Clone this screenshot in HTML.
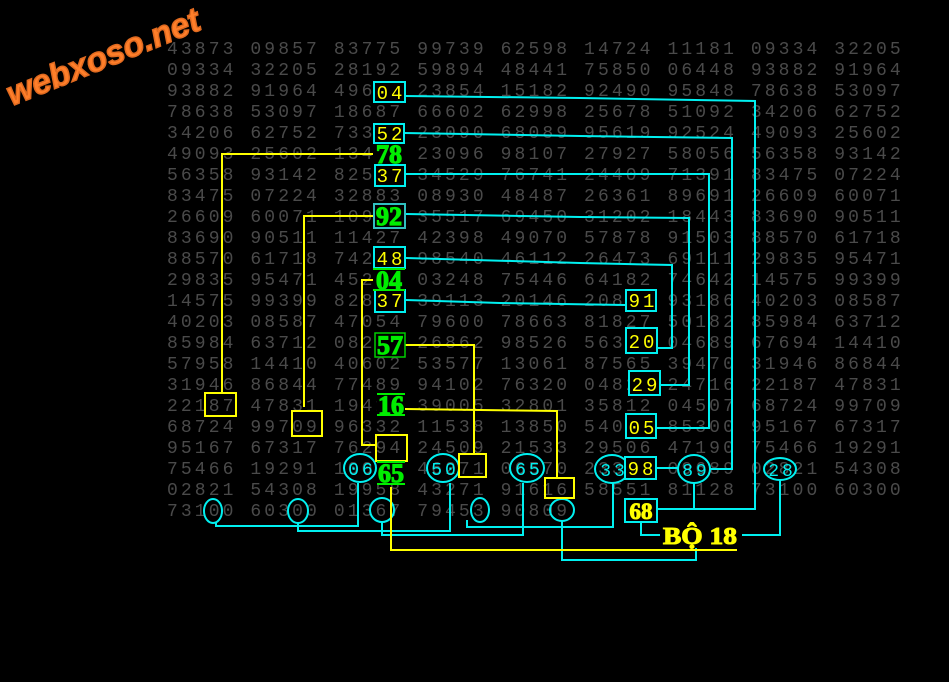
<!DOCTYPE html>
<html><head><meta charset="utf-8">
<style>
html,body{margin:0;padding:0;background:#000;width:949px;height:682px;overflow:hidden}
#g{position:absolute;left:167px;top:40px;margin:0;font-family:"Liberation Mono",monospace;font-size:18px;line-height:21px;letter-spacing:3.1px;color:#4a4a4a}
svg{position:absolute;left:0;top:0}
</style></head><body>
<pre id="g">43873 09857 83775 99739 62598 14724 11181 09334 32205
09334 32205 28192 59894 48441 75850 06448 93882 91964
93882 91964 49604 23854 15182 92490 95848 78638 53097
78638 53097 18687 66602 62998 25678 51092 34206 62752
34206 62752 73352 23090 68089 95619 92524 49093 25602
49093 25602 13478 23096 98107 27927 58056 56358 93142
56358 93142 82537 34529 76741 24409 71391 83475 07224
83475 07224 32883 08930 48487 26361 89691 26609 60071
26609 60071 10992 35517 69450 31202 18443 83690 90511
83690 90511 11427 42398 49070 57878 91503 88570 61718
88570 61718 74248 98540 46112 26473 69111 29835 95471
29835 95471 45204 03248 75446 64182 74642 14575 99399
14575 99399 82837 39113 20146 20891 93186 40203 08587
40203 08587 47054 79600 78663 81827 50182 85984 63712
85984 63712 08257 26862 98526 56320 04689 67694 14410
57958 14410 40602 53577 13061 87565 39470 31946 86844
31946 86844 77489 94102 76320 04829 24716 22187 47831
22187 47831 19416 39005 32801 35812 04507 68724 99709
68724 99709 96332 11538 13850 54005 85300 95167 67317
95167 67317 76294 24509 21533 29506 47190 75466 19291
75466 19291 10065 46271 06570 23398 09689 02821 54308
02821 54308 19958 43271 91616 58551 81128 73100 60300
73100 60300 01367 79453 90809</pre>
<svg width="949" height="682" viewBox="0 0 949 682">
<text x="12" y="106" transform="rotate(-22 12 106)" font-family="Liberation Sans,sans-serif" font-weight="bold" font-style="italic" font-size="34" fill="#ff7f2a" stroke="#e06a20" stroke-width="1.5">webxoso.net</text>

<g fill="none" stroke="#00f0f0" stroke-width="2">
<polyline points="405,96 580,98 755,101 755,509 657,509"/>
<polyline points="404,133 580,136 732,138 732,469 710,469"/>
<polyline points="406,174 709,174 709,428 657,428"/>
<polyline points="406,214 580,217 689,218 689,385 661,385"/>
<polyline points="406,258 580,263 672,265 672,348 657,348"/>
<polyline points="406,300 500,303 625,305"/>
<line x1="657" y1="468" x2="678" y2="468"/>
<polyline points="694,483 694,508"/>
<polyline points="780,480 780,535 742,535"/>
<polyline points="641,521 641,535 660,535"/>
<polyline points="613,483 613,527 467,527 467,520"/>
<polyline points="523,483 523,535 382,535 382,522"/>
<polyline points="450,483 450,531 298,531 298,523"/>
<polyline points="358,483 358,526 216,526 216,523"/>
<polyline points="562,521 562,560 696,560 696,548"/>
<ellipse cx="360" cy="468" rx="16" ry="14"/>
<ellipse cx="443" cy="468" rx="16" ry="14"/>
<ellipse cx="527" cy="468" rx="17" ry="14"/>
<ellipse cx="612" cy="469" rx="17" ry="14"/>
<ellipse cx="694" cy="469" rx="16" ry="14"/>
<ellipse cx="780" cy="469" rx="16" ry="11"/>
<ellipse cx="213" cy="511" rx="9" ry="12"/>
<ellipse cx="298" cy="511" rx="10" ry="12"/>
<ellipse cx="382" cy="510" rx="12" ry="12"/>
<ellipse cx="480" cy="510" rx="9" ry="12"/>
<ellipse cx="562" cy="510" rx="12" ry="11"/>
</g>
<g font-family="Liberation Mono,monospace" font-size="18" fill="#00f0f0" text-anchor="middle" letter-spacing="3">
<text x="362" y="475">06</text><text x="445" y="475">50</text><text x="529" y="475">65</text>
<text x="614" y="476">33</text><text x="696" y="476">89</text><text x="782" y="476">28</text>
</g>

<g fill="none" stroke="#ffff00" stroke-width="2">
<polyline points="373,154 222,154 222,393"/>
<polyline points="373,216 304,216 304,407"/>
<polyline points="374,280 362,280 362,445 376,445"/>
<polyline points="405,345 474,345 474,454"/>
<polyline points="405,409 480,410 557,411 557,478"/>
<polyline points="391,487 391,550 737,550"/>
<rect x="205" y="393" width="31" height="23"/>
<rect x="292" y="411" width="30" height="25"/>
<rect x="376" y="435" width="31" height="26"/>
<rect x="459" y="454" width="27" height="23"/>
<rect x="545" y="478" width="29" height="20"/>
</g>

<g stroke="#00f0f0" stroke-width="2" fill="#000">
<rect x="374" y="82" width="31" height="20"/>
<rect x="374" y="124" width="30" height="19"/>
<rect x="375" y="165" width="30" height="21"/>
<rect x="374" y="247" width="31" height="21"/>
<rect x="375" y="290" width="30" height="22"/>
<rect x="626" y="290" width="30" height="21"/>
<rect x="626" y="328" width="31" height="25"/>
<rect x="629" y="371" width="31" height="24"/>
<rect x="626" y="414" width="30" height="24"/>
<rect x="625" y="457" width="31" height="22"/>
<rect x="625" y="499" width="32" height="23"/>
<rect x="374" y="204" width="31" height="24" stroke="#30c0c0"/>
</g>
<g font-family="Liberation Mono,monospace" font-size="19" fill="#ffff00" text-anchor="middle" letter-spacing="3">
<text x="391" y="99">04</text><text x="391" y="140">52</text><text x="391" y="182">37</text>
<text x="391" y="265">48</text><text x="391" y="307">37</text>
<text x="643" y="307">91</text><text x="643" y="348">20</text><text x="646" y="391">29</text>
<text x="643" y="434">05</text><text x="642" y="475">98</text>
</g>
<text x="641" y="519" text-anchor="middle" font-family="Liberation Serif,serif" font-weight="bold" font-size="23" fill="#ffff00" stroke="#ffff00" stroke-width="1">68</text>

<g font-family="Liberation Serif,serif" font-weight="bold" font-size="26" fill="#00ee00" stroke="#00ee00" stroke-width="1.2" text-anchor="middle">
<rect x="373" y="144" width="33" height="20" fill="#000" stroke="none"/>
<text x="389" y="163">78</text>
<text x="389" y="225">92</text>
<rect x="373" y="269" width="33" height="20" fill="#000" stroke="none"/>
<text x="389" y="289">04</text>
<rect x="375" y="333" width="30" height="24" fill="#000" stroke="#00cc00" stroke-width="1.5"/>
<text x="390" y="354">57</text>
<rect x="377" y="395" width="28" height="20" fill="#000" stroke="none"/>
<text x="391" y="414">16</text>
<rect x="377" y="462" width="28" height="22" fill="#000" stroke="none"/>
<text x="391" y="482">65</text>
</g>
<g stroke="#00ee00" stroke-width="2">
<line x1="377" y1="394" x2="405" y2="394"/><line x1="377" y1="415" x2="405" y2="415"/>
<line x1="377" y1="462" x2="405" y2="462"/><line x1="377" y1="484" x2="405" y2="484"/>
<line x1="373" y1="269" x2="405" y2="269"/><line x1="373" y1="290" x2="405" y2="290"/>
</g>

<rect x="660" y="522" width="80" height="26" fill="#000"/>
<text x="663" y="544" font-family="Liberation Serif,serif" font-weight="bold" font-size="24" fill="#ffff00" stroke="#ffff00" stroke-width="1" textLength="74" lengthAdjust="spacingAndGlyphs">BỘ 18</text>
</svg>
</body></html>
